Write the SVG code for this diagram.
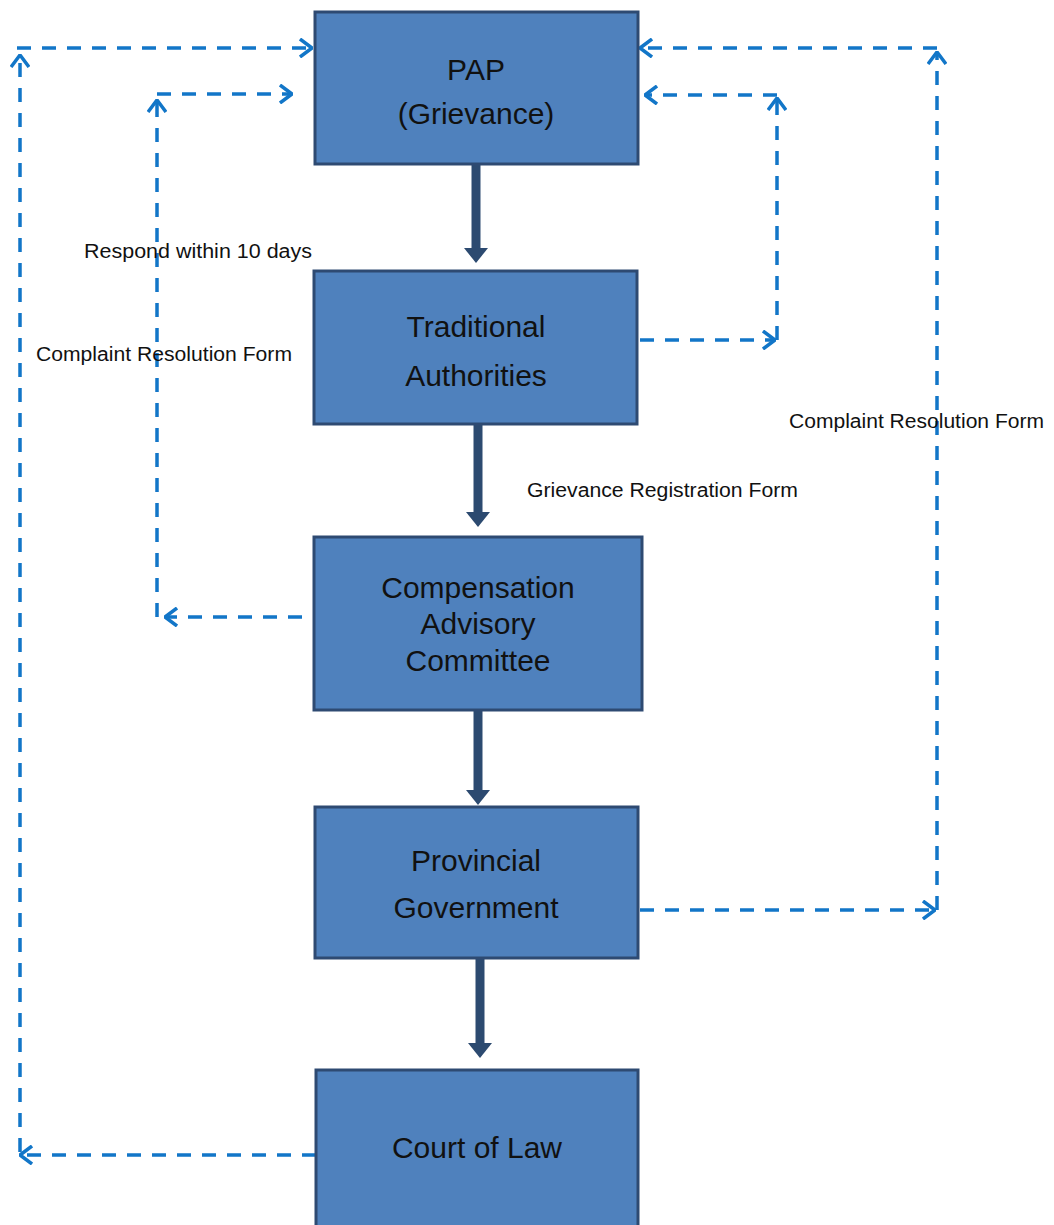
<svg xmlns="http://www.w3.org/2000/svg" width="1054" height="1225" viewBox="0 0 1054 1225">
<style>
.box{fill:#4F81BD;stroke:#2E4A72;stroke-width:3}
.nt{font-family:"Liberation Sans",Arial,sans-serif;font-size:30px;fill:#111;text-anchor:middle}
.lb{font-family:"Liberation Sans",Arial,sans-serif;font-size:20px;fill:#111}
.dash{fill:none;stroke:#1276C8;stroke-width:3.5;stroke-dasharray:14 11}
.solid{fill:none;stroke:#2C4A70;stroke-width:9}
</style>
<defs>
<marker id="open" viewBox="0 0 14 20" refX="13" refY="10" markerWidth="14" markerHeight="20" markerUnits="userSpaceOnUse" orient="auto">
<path d="M1,1 L13,10 L1,19" fill="none" stroke="#1276C8" stroke-width="3.5"/>
</marker>
<marker id="tri" viewBox="0 0 15 24" refX="1" refY="12" markerWidth="15" markerHeight="24" markerUnits="userSpaceOnUse" orient="auto">
<path d="M0,0 L15,12 L0,24 Z" fill="#2C4A70"/>
</marker>
</defs>
<g id="connectors">
<line class="solid" x1="476" y1="164" x2="476" y2="249" marker-end="url(#tri)"/>
<line class="solid" x1="478" y1="424" x2="478" y2="513" marker-end="url(#tri)"/>
<line class="solid" x1="478" y1="710" x2="478" y2="791" marker-end="url(#tri)"/>
<line class="solid" x1="480" y1="958" x2="480" y2="1044" marker-end="url(#tri)"/>
<line class="dash" x1="316" y1="1155" x2="20" y2="1155" marker-end="url(#open)"/>
<line class="dash" x1="20" y1="1152" x2="20" y2="55" marker-end="url(#open)"/>
<line class="dash" x1="17" y1="48" x2="312" y2="48" marker-end="url(#open)"/>
<line class="dash" x1="302" y1="617" x2="165" y2="617" marker-end="url(#open)"/>
<line class="dash" x1="157" y1="617" x2="157" y2="100" marker-end="url(#open)"/>
<line class="dash" x1="157" y1="94" x2="292" y2="94" marker-end="url(#open)"/>
<line class="dash" x1="640" y1="340" x2="775" y2="340" marker-end="url(#open)"/>
<line class="dash" x1="777" y1="340" x2="777" y2="98" marker-end="url(#open)"/>
<line class="dash" x1="777" y1="95" x2="645" y2="95" marker-end="url(#open)"/>
<line class="dash" x1="640" y1="910" x2="935" y2="910" marker-end="url(#open)"/>
<line class="dash" x1="937" y1="910" x2="937" y2="52" marker-end="url(#open)"/>
<line class="dash" x1="937" y1="48" x2="640" y2="48" marker-end="url(#open)"/>
</g>
<g id="pap">
<rect class="box" x="315" y="12" width="323" height="152"/>
<text class="nt" x="476" y="80">PAP</text>
<text class="nt" x="476" y="124">(Grievance)</text>
</g>
<g id="traditional">
<rect class="box" x="314" y="271" width="323" height="153"/>
<text class="nt" x="476" y="337">Traditional</text>
<text class="nt" x="476" y="386">Authorities</text>
</g>
<g id="compensation">
<rect class="box" x="314" y="537" width="328" height="173"/>
<text class="nt" x="478" y="598">Compensation</text>
<text class="nt" x="478" y="634">Advisory</text>
<text class="nt" x="478" y="671">Committee</text>
</g>
<g id="provincial">
<rect class="box" x="315" y="807" width="323" height="151"/>
<text class="nt" x="476" y="871">Provincial</text>
<text class="nt" x="476" y="918">Government</text>
</g>
<g id="court">
<rect class="box" x="316" y="1070" width="322" height="160"/>
<text class="nt" x="477" y="1158">Court of Law</text>
</g>
<g id="labels">
<text class="lb" x="84" y="258" textLength="228" lengthAdjust="spacingAndGlyphs">Respond within 10 days</text>
<text class="lb" x="36" y="361" textLength="256" lengthAdjust="spacingAndGlyphs">Complaint  Resolution Form</text>
<text class="lb" x="527" y="497" textLength="271" lengthAdjust="spacingAndGlyphs">Grievance Registration Form</text>
<text class="lb" x="789" y="428" textLength="255" lengthAdjust="spacingAndGlyphs">Complaint  Resolution Form</text>
</g>
</svg>
